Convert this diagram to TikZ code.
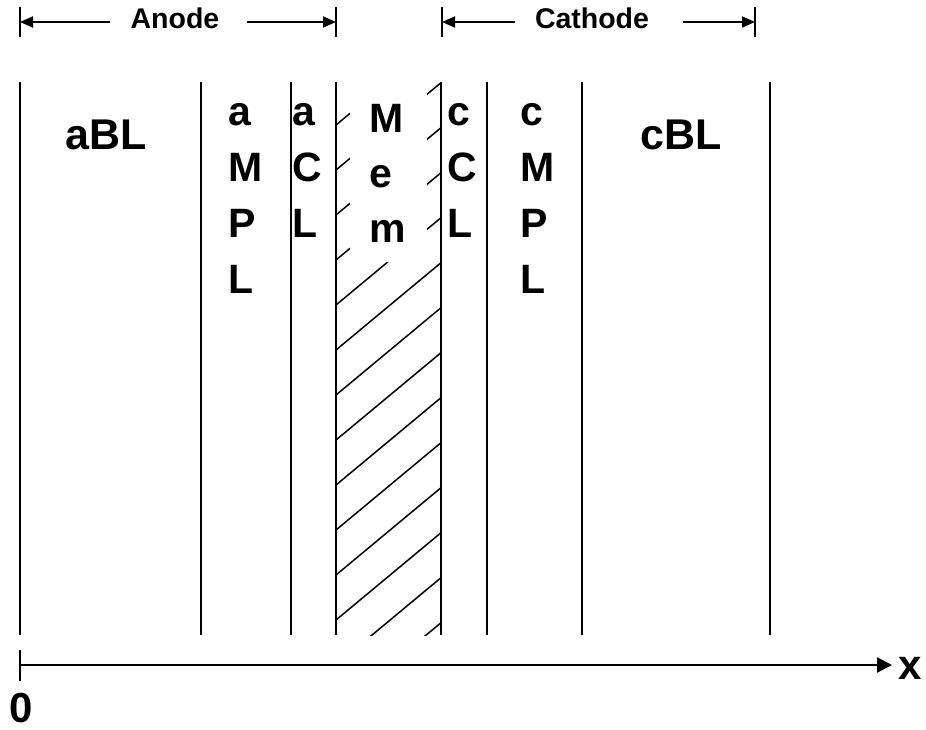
\documentclass[tikz,border=0pt]{standalone}
\usepackage{fontspec}
\setmainfont{Liberation Sans}
\usetikzlibrary{arrows.meta}
\begin{document}
\begin{tikzpicture}[x=1pt,y=-1pt,
  layer/.style={line width=2.4pt},
  hatchline/.style={line width=1.5pt},
  dimbar/.style={line width=1.8pt},
  dimarrow/.style={line width=1.8pt,-{Triangle[length=13pt,width=11pt]}},
  axisline/.style={line width=2.2pt,-{Triangle[length=15pt,width=15pt]}},
  stack/.style={font=\fontsize{41}{56}\selectfont\bfseries, align=left, inner sep=0pt, anchor=north west},
  memstack/.style={font=\fontsize{41}{55}\selectfont\bfseries, align=left, inner sep=0pt, anchor=north west},
  big/.style={font=\fontsize{43}{50}\selectfont\bfseries, inner sep=0pt, anchor=base},
  dimlabel/.style={font=\fontsize{28.5}{32}\selectfont\bfseries, inner sep=0pt, anchor=base},
  axislabel/.style={font=\fontsize{42}{50}\selectfont\bfseries, inner sep=0pt}
]
\useasboundingbox (0,0) rectangle (926,730);

% membrane hatching, clipped to the membrane strip
\begin{scope}
  \clip (336,82) rectangle (441,635);
  \foreach \k in {-1,...,13}
    \draw[hatchline] (336,125+45*\k) -- ++(105,-87.3);
\end{scope}
% clear area behind the membrane label
\fill[white] (350,80) rectangle (427,262);

% layer boundaries
\foreach \xx in {20,201,291,336,441,487,582,770}
  \draw[layer] (\xx,82) -- (\xx,635);

% layer labels
\node[big] (abl) at (106,150) {aBL};
\node[stack] (ampl) at (228,103) {a\\M\\P\\L};
\node[stack] (acl) at (292,103) {a\\C\\L};
\node[memstack] (mem) at (369,104) {M\\e\\m};
\node[stack] (ccl) at (447,103) {c\\C\\L};
\node[stack] (cmpl) at (520,103) {c\\M\\P\\L};
\node[big] (cbl) at (681,150) {cBL};

% electrode extents
\coordinate (anL) at (20,22);
\coordinate (anR) at (336,22);
\coordinate (caL) at (442,22);
\coordinate (caR) at (755,22);
\draw[dimbar] (20,7) -- (20,37);
\draw[dimbar] (336,7) -- (336,37);
\draw[dimbar] (442,7) -- (442,37);
\draw[dimbar] (755,7) -- (755,37);
\node[dimlabel] (anode) at (175,29) {Anode};
\node[dimlabel] (cathode) at (592,29) {Cathode};
\coordinate (anA) at (110,22);
\coordinate (anB) at (247,22);
\coordinate (caA) at (515,22);
\coordinate (caB) at (683,22);
\draw[dimarrow] (anA) -- (anL);
\draw[dimarrow] (anB) -- (anR);
\draw[dimarrow] (caA) -- (caL);
\draw[dimarrow] (caB) -- (caR);

% position axis
\coordinate (origin) at (20,665);
\coordinate (xend) at (892,665);
\draw[dimbar] (20,650) -- (20,681);
\draw[axisline] (origin) -- (xend);
\node[axislabel, anchor=base west] (xlab) at (898,679) {x};
\node[axislabel, anchor=base] (zero) at (21,722) {0};
\end{tikzpicture}
\end{document}
